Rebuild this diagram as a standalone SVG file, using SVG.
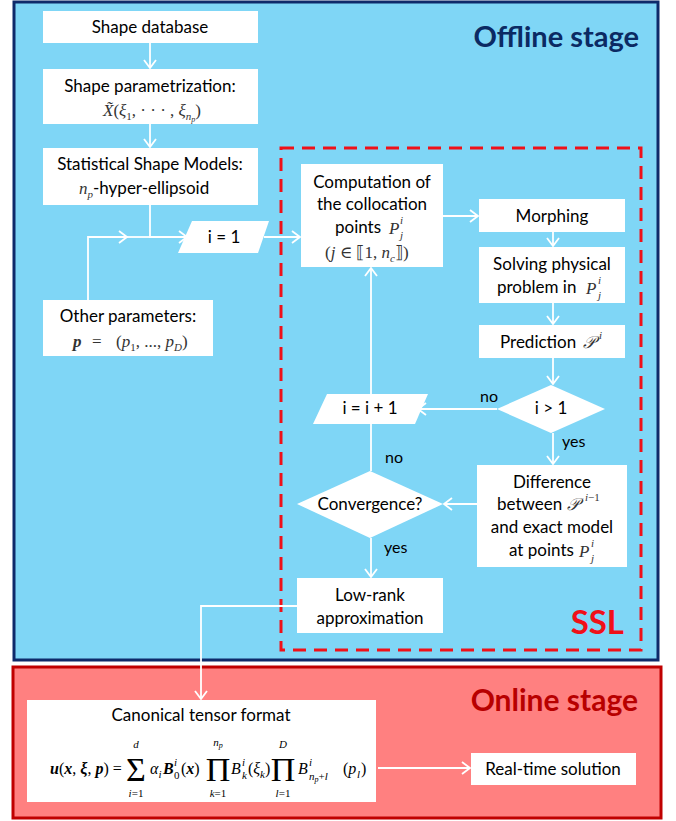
<svg xmlns="http://www.w3.org/2000/svg" width="676" height="821" viewBox="0 0 676 821">
<defs>
<marker id="ah" markerUnits="userSpaceOnUse" markerWidth="12" markerHeight="14" refX="9" refY="7" orient="auto">
<path d="M1,1 L9,7 L1,13" fill="none" stroke="#fff" stroke-width="1.8"/>
</marker>
<style>
.box{fill:#fff}
.t{font-family:Lato,"Open Sans","DejaVu Sans",sans-serif;font-size:17px;fill:#000;text-anchor:middle}
.tl{font-family:Lato,"Open Sans","DejaVu Sans",sans-serif;font-size:17px;fill:#000}
.lbl{font-family:Lato,"Open Sans","DejaVu Sans",sans-serif;font-size:16px;fill:#000}
.m{font-family:"Liberation Serif","DejaVu Serif",serif;font-style:italic;font-size:17px;fill:#333}
.mr{font-family:"Liberation Serif","DejaVu Serif",serif;font-size:17px;fill:#333}
.sc{font-family:"Liberation Serif","DejaVu Serif",serif;font-style:italic;font-size:11px;fill:#333}
.f{font-family:"Liberation Serif","DejaVu Serif",serif;font-size:16px;fill:#000}
.fi{font-family:"Liberation Serif","DejaVu Serif",serif;font-size:16px;font-style:italic;fill:#000}
.fb{font-family:"Liberation Serif","DejaVu Serif",serif;font-size:16px;font-weight:bold;font-style:italic;fill:#000}
.s{font-family:"Liberation Serif","DejaVu Serif",serif;font-size:11px;font-style:italic;fill:#000}
.sr{font-family:"Liberation Serif","DejaVu Serif",serif;font-size:11px;fill:#000}
.fs{font-family:"Liberation Serif","DejaVu Serif",serif;font-size:11px;font-style:italic;fill:#000;text-anchor:middle}
.big{font-family:"Liberation Serif","DejaVu Serif",serif;font-size:34px;fill:#000;text-anchor:middle}
.c{fill:none;stroke:#fff;stroke-width:1.8}
.ca{fill:none;stroke:#fff;stroke-width:1.8;marker-end:url(#ah)}
</style>
</defs>

<g id="offline-stage">
<rect x="14" y="2" width="644" height="658" fill="#7FD6F6" stroke="#0E2A6A" stroke-width="3"/>
<text x="639" y="47" font-family="Lato,'Open Sans',sans-serif" font-weight="bold" font-size="29" fill="#0B2A63" text-anchor="end">Offline stage</text>
</g>
<g id="online-stage">
<rect x="13" y="667" width="648" height="151" fill="#FF8080" stroke="#C00000" stroke-width="3"/>
<text x="638" y="711" font-family="Lato,'Open Sans',sans-serif" font-weight="bold" font-size="30" fill="#B80000" text-anchor="end">Online stage</text>
</g>
<g id="ssl">
<rect x="281" y="148" width="360" height="502" fill="none" stroke="#F01018" stroke-width="3" stroke-dasharray="13,8"/>
<text x="624" y="634" font-family="Lato,'Open Sans',sans-serif" font-weight="bold" font-size="33" fill="#F01018" text-anchor="end">SSL</text>
</g>

<g id="connectors">
<path class="ca" d="M150,43 V68"/>
<path class="ca" d="M150,124 V147"/>
<path class="ca" d="M150,205 V237 H187"/>
<path class="ca" d="M88,300 V237 H127"/>
<path class="c" d="M125,237 H150"/>
<path class="ca" d="M264,237 H300"/>
<path class="ca" d="M443,216 H478"/>
<path class="ca" d="M553,232 V246"/>
<path class="ca" d="M553,303 V324"/>
<path class="ca" d="M553,358 V384"/>
<path class="ca" d="M497,409 H418"/>
<path class="ca" d="M553,433 V464"/>
<path class="ca" d="M477,504 H444"/>
<path class="c" d="M371,471 V424"/>
<path class="ca" d="M371,394 V268"/>
<path class="ca" d="M371,538 V577"/>
<path class="ca" d="M297,606 H201 V699"/>
<path class="ca" d="M378,768 H470"/>
<text class="lbl" x="480" y="402">no</text>
<text class="lbl" x="562" y="447">yes</text>
<text class="lbl" x="385" y="463">no</text>
<text class="lbl" x="384" y="553">yes</text>
</g>

<g id="shape-database">
<rect class="box" x="43" y="11" width="215" height="32"/>
<text class="t" x="150" y="33">Shape database</text>
</g>
<g id="shape-parametrization">
<rect class="box" x="43" y="69" width="215" height="55"/>
<text class="t" x="150" y="92">Shape parametrization:</text>
<text class="mr" x="103" y="116"><tspan font-style="italic">X̃</tspan>(<tspan font-style="italic">ξ</tspan><tspan font-size="11" dy="4">1</tspan><tspan dy="-4">, · · · , </tspan><tspan font-style="italic">ξ</tspan><tspan font-size="11" font-style="italic" dy="4">n</tspan><tspan font-size="8" font-style="italic" dy="2">p</tspan><tspan dy="-6">)</tspan></text>
</g>
<g id="statistical-shape-models">
<rect class="box" x="43" y="148" width="215" height="57"/>
<text class="t" x="150" y="170">Statistical Shape Models:</text>
<text x="79" y="194"><tspan class="m">n</tspan><tspan class="sc" dy="4">p</tspan><tspan class="tl" dy="-4">-hyper-ellipsoid</tspan></text>
</g>
<g id="other-parameters">
<rect class="box" x="43" y="300" width="170" height="56"/>
<text class="t" x="128" y="322">Other parameters:</text>
<text class="mr" x="73" y="347"><tspan font-weight="bold" font-style="italic">p</tspan><tspan x="92">=</tspan><tspan x="116">(</tspan><tspan font-style="italic">p</tspan><tspan font-size="11" dy="4">1</tspan><tspan dy="-4">, ..., </tspan><tspan font-style="italic">p</tspan><tspan font-size="11" font-style="italic" dy="4">D</tspan><tspan dy="-4">)</tspan></text>
</g>
<g id="i-equals-1">
<polygon points="192,221 269,221 258,253 178,253" fill="#fff"/>
<text class="t" x="224" y="243" font-size="15">i = 1</text>
</g>
<g id="computation">
<rect class="box" x="301" y="164" width="142" height="103"/>
<text class="t" x="372" y="188">Computation of</text>
<text class="t" x="372" y="210">the collocation</text>
<text class="tl" x="335" y="233">points</text>
<text class="m" x="389" y="234">P</text>
<text class="sc" x="400" y="224">i</text>
<text class="sc" x="400" y="239">j</text>
<text class="mr" x="325" y="258">(<tspan font-style="italic">j</tspan> ∈ ⟦1, <tspan font-style="italic">n</tspan><tspan font-size="11" font-style="italic" dy="4">c</tspan><tspan dy="-4">⟧)</tspan></text>
</g>
<g id="morphing">
<rect class="box" x="479" y="199" width="146" height="33"/>
<text class="t" x="552" y="222">Morphing</text>
</g>
<g id="solving">
<rect class="box" x="479" y="247" width="146" height="56"/>
<text class="t" x="552" y="270">Solving physical</text>
<text class="tl" x="497" y="293">problem in</text>
<text class="m" x="586" y="294">P</text>
<text class="sc" x="598" y="284">i</text>
<text class="sc" x="598" y="299">j</text>
</g>
<g id="prediction">
<rect class="box" x="479" y="325" width="146" height="33"/>
<text class="tl" x="500" y="348">Prediction</text>
<text class="m" x="583" y="348">𝒫</text>
<text class="sc" x="599" y="339">i</text>
</g>
<g id="i-greater-1">
<polygon points="551,385 605,409 551,433 497,409" fill="#fff"/>
<text class="t" x="551" y="414" font-size="15">i &gt; 1</text>
</g>
<g id="i-increment">
<polygon points="327,394 428,394 415,424 313,424" fill="#fff"/>
<text class="t" x="370" y="414" font-size="15">i = i + 1</text>
</g>
<g id="difference">
<rect class="box" x="477" y="465" width="150" height="102"/>
<text class="t" x="552" y="488">Difference</text>
<text class="tl" x="497" y="510">between</text>
<text class="m" x="567" y="510">𝒫</text>
<text class="sc" x="585" y="501">i<tspan font-style="normal">−1</tspan></text>
<text class="t" x="552" y="533">and exact model</text>
<text class="tl" x="509" y="556">at points</text>
<text class="m" x="579" y="557">P</text>
<text class="sc" x="591" y="547">i</text>
<text class="sc" x="591" y="562">j</text>
</g>
<g id="convergence">
<polygon points="370,471 443,504 370,538 297,504" fill="#fff"/>
<text class="t" x="370" y="510">Convergence?</text>
</g>
<g id="low-rank">
<rect class="box" x="297" y="578" width="146" height="55"/>
<text class="t" x="370" y="601">Low-rank</text>
<text class="t" x="370" y="624">approximation</text>
</g>
<g id="canonical">
<rect class="box" x="27" y="700" width="349" height="102"/>
<text class="t" x="201" y="721">Canonical tensor format</text>
<text class="f" x="50" y="774"><tspan class="fb">u</tspan>(<tspan class="fb">x</tspan>, <tspan class="fb">ξ</tspan>, <tspan class="fb">p</tspan>) =</text>
<text class="big" x="136" y="781">Σ</text>
<text class="fs" x="136" y="748">d</text>
<text class="fs" x="136" y="797">i<tspan font-style="normal">=1</tspan></text>
<text class="fi" x="150" y="774">α</text>
<text class="s" x="158.5" y="778">i</text>
<text class="fb" x="163" y="774">B</text>
<text class="s" x="174" y="766">i</text>
<text class="sr" x="174" y="779">0</text>
<text class="f" x="181" y="774">(<tspan class="fb">x</tspan>)</text>
<text class="big" x="218" y="781" font-size="30">Π</text>
<text class="fs" x="218" y="746">n<tspan font-size="8" dy="2">p</tspan></text>
<text class="fs" x="218" y="797">k<tspan font-style="normal">=1</tspan></text>
<text class="fi" x="231" y="774">B</text>
<text class="s" x="242" y="766">i</text>
<text class="s" x="242" y="779">k</text>
<text class="f" x="248" y="774">(<tspan font-style="italic">ξ</tspan></text>
<text class="s" x="260" y="778">k</text>
<text class="f" x="265" y="774">)</text>
<text class="big" x="283" y="781" font-size="30">Π</text>
<text class="fs" x="283" y="748">D</text>
<text class="fs" x="283" y="797">l<tspan font-style="normal">=1</tspan></text>
<text class="fi" x="298" y="774">B</text>
<text class="s" x="309" y="766">i</text>
<text class="s" x="309" y="780">n<tspan font-size="8" dy="2">p</tspan><tspan font-style="normal" dy="-2">+</tspan>l</text>
<text class="f" x="343" y="774">(<tspan font-style="italic">p</tspan></text>
<text class="s" x="357" y="778">l</text>
<text class="f" x="361" y="774">)</text>
</g>
<g id="real-time">
<rect class="box" x="471" y="753" width="165" height="32"/>
<text class="t" x="553" y="775">Real-time solution</text>
</g>
</svg>
